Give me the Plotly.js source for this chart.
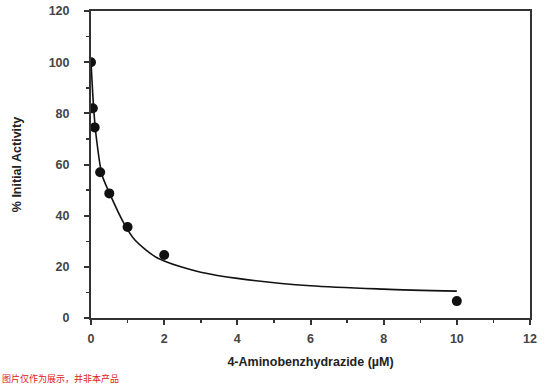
<!DOCTYPE html>
<html>
<head>
<meta charset="utf-8">
<script src="https://cdn.plot.ly/plotly-3.0.1.min.js"></script>
<style>html,body{margin:0;padding:0;background:#fff;}#chart{width:550px;height:387px;}</style>
</head>
<body>
<div id="chart"></div>
<script>
// Measured data points
var conc = [0, 0.05, 0.1, 0.25, 0.5, 1, 2, 10];
var activity = [100, 82, 74.5, 57, 48.7, 35.6, 24.6, 6.6];
// Fitted curve
var fitX = [0, 0.05, 0.1, 0.15, 0.3, 0.5, 0.9, 1.2, 1.75, 2, 2.5, 3, 4, 6, 8, 10];
var fitY = [100, 87, 77, 70, 56, 49, 37, 30.5, 24, 22.3, 19.8, 17.9, 15.5, 12.6, 11.3, 10.5];
var xTicks = [0, 2, 4, 6, 8, 10, 12];
var yTicks = [0, 20, 40, 60, 80, 100, 120];

var traces = [
  {x: fitX, y: fitY, mode: 'lines', type: 'scatter', line: {color: '#111', width: 1.6, shape: 'spline', smoothing: 0.8}, hoverinfo: 'skip'},
  {x: conc, y: activity, mode: 'markers', type: 'scatter', marker: {color: '#111', size: 10}}
];

var axisFont = {family: 'Liberation Sans, Arial, sans-serif', size: 12.5, color: '#444', weight: 'bold'};
var titleFont = {family: 'Liberation Sans, Arial, sans-serif', size: 12.5, color: '#222', weight: 'bold'};
var layout = {
  width: 550, height: 387,
  margin: {l: 91, r: 20, t: 11, b: 69},
  paper_bgcolor: '#fff', plot_bgcolor: '#fff',
  showlegend: false,
  xaxis: {
    range: [0, 12], tickvals: xTicks, ticktext: xTicks.map(String),
    showline: true, linecolor: '#333', linewidth: 2, mirror: true,
    ticks: 'outside', ticklen: 5, tickwidth: 2, tickcolor: '#333',
    minor: {dtick: 1, ticks: 'outside', ticklen: 3, tickwidth: 1.5, tickcolor: '#333'},
    showgrid: false, zeroline: false,
    tickfont: axisFont, ticklabelstandoff: 3,
    title: {text: '4-Aminobenzhydrazide (µM)', font: titleFont, standoff: 12}
  },
  yaxis: {
    range: [0, 120], tickvals: yTicks, ticktext: yTicks.map(String),
    showline: true, linecolor: '#333', linewidth: 2, mirror: true,
    ticks: 'outside', ticklen: 5, tickwidth: 2, tickcolor: '#333',
    minor: {dtick: 10, ticks: 'outside', ticklen: 3, tickwidth: 1.5, tickcolor: '#333'},
    showgrid: false, zeroline: false,
    tickfont: axisFont, ticklabelstandoff: 12,
    title: {text: '% Initial Activity', font: titleFont, standoff: 24}
  },
  annotations: [
    {text: '图片仅作为展示，并非本产品', xref: 'paper', yref: 'paper', x: -91/439, y: -60/307, xanchor: 'left', yanchor: 'middle', showarrow: false, font: {family: 'Noto Sans CJK SC', size: 9, color: '#e02020'}}
  ]
};
Plotly.newPlot('chart', traces, layout, {displayModeBar: false, staticPlot: true});
</script>
</body>
</html>
